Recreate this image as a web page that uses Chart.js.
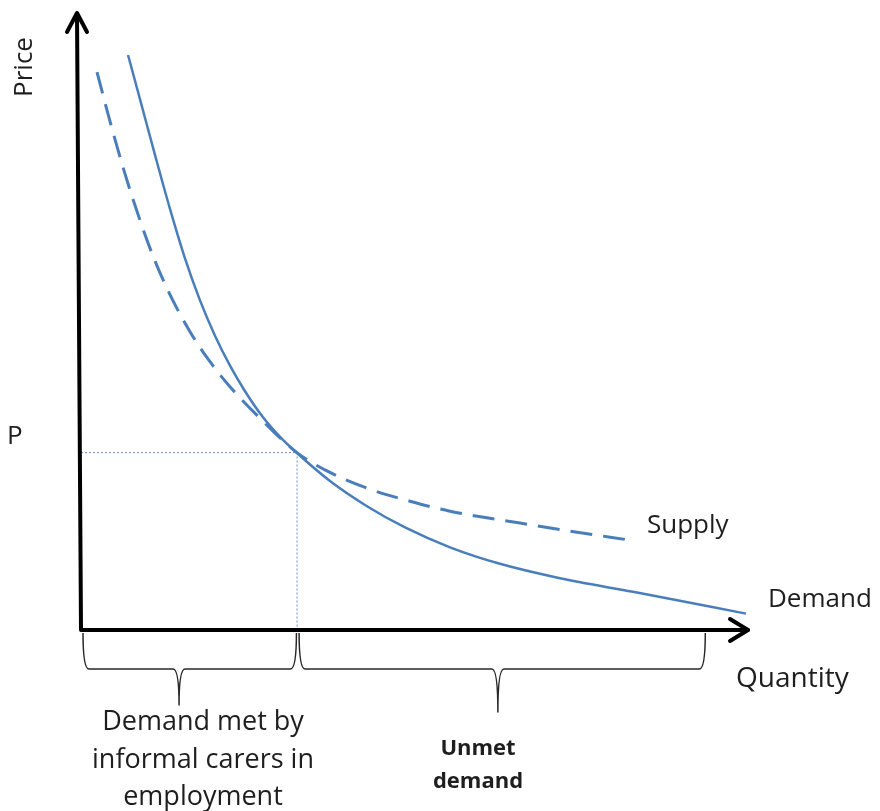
<!DOCTYPE html>
<html lang="en">
  <head>
    <meta charset="utf-8" />
    <title>Informal carers: supply and demand</title>
    <style>
      * {
        margin: 0;
        padding: 0;
      }
      body {
        background: white;
      }
      .chartBox {
        width: 880px;
        height: 811px;
      }
    </style>
  </head>
  <body>
    <div class="chartBox">
      <canvas id="myChart" width="880" height="811"></canvas>
    </div>

    <script src="https://cdn.jsdelivr.net/npm/chart.js"></script>

    <script>
      // curve points (quantity 0-100, price 0-100)
      const demandQty = [7.05, 8.85, 11.09, 13.34, 15.59, 17.84, 20.09, 22.34, 24.59, 27.29, 29.84, 32.38, 37.33, 42.88, 48.58, 55.32, 62.82, 71.81, 82.76, 99.7];
      const demandPrice = [93.04, 85.86, 76.88, 68.14, 60.13, 53.33, 47.62, 42.77, 38.64, 34.42, 31.26, 28.64, 24.11, 20.03, 16.59, 13.38, 10.71, 8.38, 6.18, 2.65];
      const supplyQty = [2.4, 4.35, 6.6, 8.85, 11.09, 13.34, 16.34, 19.34, 22.34, 26.84, 32.38, 37.33, 43.33, 49.33, 55.32, 65.82, 73.31, 81.86];
      const supplyPrice = [90.29, 82.3, 73.8, 66.28, 59.72, 54.26, 48.27, 43.41, 39.37, 34.27, 28.71, 25.5, 22.78, 20.84, 19.22, 17.3, 16.0, 14.61];

      // equilibrium point and brace ranges
      const eqQty = 32.4;
      const eqPrice = 28.7;
      const braceStart = [0.3, 32.7];
      const braceEnd = [32.3, 93.6];
      const braceTip = [14.7, 62.5];

      const axisLabels = ["Price", "Quantity"];
      const priceLabel = "P";
      const curveLabels = ["Supply", "Demand"];
      const metLines = ["Demand met by", "informal carers in", "employment"];
      const unmetLines = ["Unmet", "demand"];

      const blue = "rgba(74, 126, 187, 1)";

      const toPoints = (xs, ys) => xs.map((v, i) => ({ x: v, y: ys[i] }));

      const data = {
        datasets: [
          {
            label: "Demand",
            data: toPoints(demandQty, demandPrice),
            borderColor: blue,
            borderWidth: 2.5,
            cubicInterpolationMode: "monotone",
            pointRadius: 0,
            clip: false,
          },
          {
            label: "Supply",
            data: toPoints(supplyQty, supplyPrice),
            borderColor: blue,
            borderWidth: 3,
            borderDash: [22, 11],
            cubicInterpolationMode: "monotone",
            pointRadius: 0,
            clip: false,
          },
          {
            label: "guide",
            data: [
              { x: 0, y: eqPrice },
              { x: eqQty, y: eqPrice },
              { x: eqQty, y: 0 },
            ],
            borderColor: "rgba(110, 140, 190, 1)",
            borderWidth: 1,
            borderDash: [2, 2],
            pointRadius: 0,
            tension: 0,
            clip: false,
          },
        ],
      };

      function drawBrace(ctx, x0, x1, tip, yTop, yMid, yTip) {
        const r = 6;
        ctx.beginPath();
        ctx.moveTo(x0, yTop);
        ctx.quadraticCurveTo(x0, yMid, x0 + r, yMid);
        ctx.lineTo(tip - r, yMid);
        ctx.quadraticCurveTo(tip, yMid, tip, yTip);
        ctx.quadraticCurveTo(tip, yMid, tip + r, yMid);
        ctx.lineTo(x1 - r, yMid);
        ctx.quadraticCurveTo(x1, yMid, x1, yTop);
        ctx.stroke();
      }

      const diagram = {
        id: "diagram",
        afterDatasetsDraw(chart) {
          const {
            ctx,
            scales: { x, y },
          } = chart;
          ctx.save();

          // axes with arrow heads
          const ox = x.getPixelForValue(0);
          const oy = y.getPixelForValue(0);
          const topY = y.getPixelForValue(100);
          const rightX = x.getPixelForValue(100);
          ctx.strokeStyle = "black";
          ctx.lineWidth = 4;
          ctx.lineCap = "round";
          ctx.lineJoin = "round";
          ctx.beginPath();
          ctx.moveTo(ox - 4, topY + 2);
          ctx.lineTo(ox, oy);
          ctx.lineTo(rightX, oy);
          ctx.stroke();
          ctx.beginPath();
          ctx.moveTo(ox - 14, topY + 20);
          ctx.lineTo(ox - 4, topY + 1);
          ctx.lineTo(ox + 6, topY + 20);
          ctx.stroke();
          ctx.beginPath();
          ctx.moveTo(rightX - 18, oy - 11);
          ctx.lineTo(rightX, oy);
          ctx.lineTo(rightX - 18, oy + 11);
          ctx.stroke();

          // braces under the quantity axis
          ctx.strokeStyle = "rgba(40, 40, 40, 1)";
          ctx.lineWidth = 1.5;
          ctx.lineCap = "butt";
          const tipDepth = [705, 712];
          braceStart.forEach((s, i) => {
            drawBrace(
              ctx,
              x.getPixelForValue(s),
              x.getPixelForValue(braceEnd[i]),
              x.getPixelForValue(braceTip[i]),
              oy + 3,
              oy + 39,
              tipDepth[i]
            );
          });

          // labels
          ctx.fillStyle = "rgba(30, 30, 30, 1)";
          ctx.textBaseline = "alphabetic";
          ctx.font = "26px 'Open Sans'";

          ctx.textAlign = "left";
          ctx.fillText(priceLabel, 7, y.getPixelForValue(eqPrice) - 9);
          ctx.fillText(curveLabels[0], 647, 533);
          ctx.fillText(curveLabels[1], 768, 607);
          ctx.font = "28px 'Open Sans'";
          ctx.fillText(axisLabels[1], 736, 687);

          ctx.save();
          ctx.font = "26px 'Open Sans'";
          ctx.translate(32, 67);
          ctx.rotate(-Math.PI / 2);
          ctx.textAlign = "center";
          ctx.fillText(axisLabels[0], 0, 0);
          ctx.restore();

          ctx.textAlign = "center";
          ctx.font = "27px 'Open Sans'";
          metLines.forEach((line, i) => {
            ctx.fillText(line, 203, 730 + i * 37.5);
          });

          ctx.font = "bold 22px 'Open Sans'";
          unmetLines.forEach((line, i) => {
            ctx.fillText(line, 478, 755 + i * 33);
          });

          ctx.restore();
        },
      };

      const config = {
        type: "line",
        data: data,
        options: {
          responsive: false,
          animation: false,
          events: [],
          layout: {
            padding: { left: 81, right: 132, top: 12, bottom: 181 },
          },
          plugins: {
            legend: { display: false },
            tooltip: { enabled: false },
          },
          scales: {
            x: { type: "linear", min: 0, max: 100, display: false },
            y: { type: "linear", min: 0, max: 100, display: false },
          },
        },
        plugins: [diagram],
      };

      const myChart = new Chart(document.getElementById("myChart"), config);
    </script>
  </body>
</html>
